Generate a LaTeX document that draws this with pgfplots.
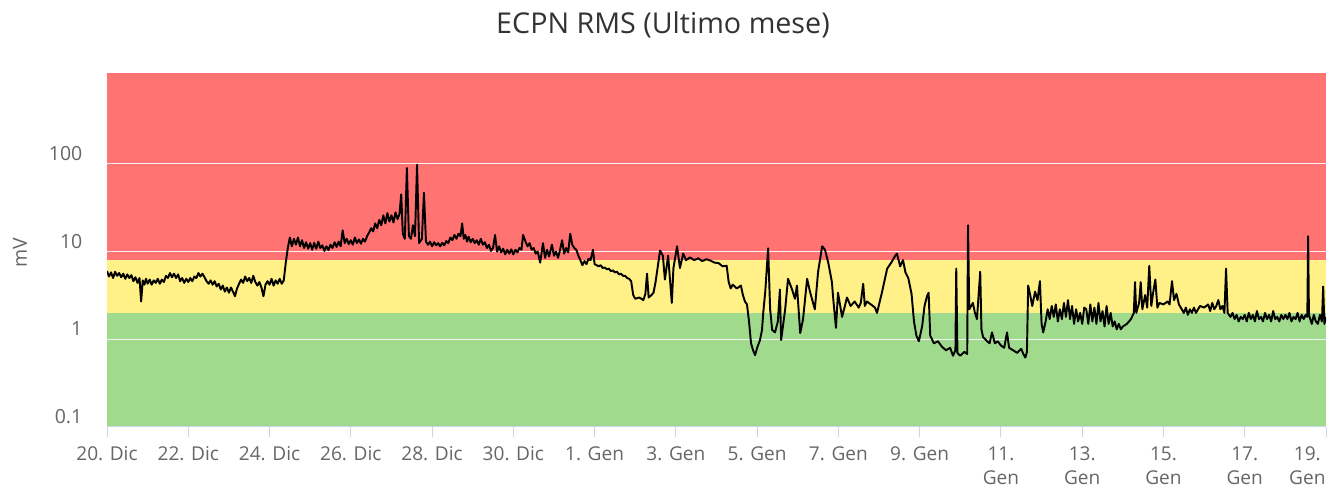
\documentclass[border=0pt]{standalone}
\usepackage{fontspec}
\setmainfont{Open Sans}
\usepackage{pgfplots}
\pgfplotsset{compat=1.18}

\definecolor{bandred}{HTML}{FF7373}
\definecolor{bandyellow}{HTML}{FFF087}
\definecolor{bandgreen}{HTML}{A0DA8C}
\definecolor{txtgray}{HTML}{666666}
\definecolor{titlegray}{HTML}{333333}
\definecolor{axisblue}{HTML}{CCD6EB}

\begin{document}
\begin{tikzpicture}
\begin{axis}[
    set layers,
    scale only axis,
    width=914.25pt, height=265.5pt,
    ymode=log,
    xmin=0, xmax=30, ymin=0.1, ymax=1090,
    axis x line*=bottom, axis y line*=left,
    x axis line style={draw=axisblue, line width=0.75pt, -},
    y axis line style={draw=none},
    tick align=outside,
    major tick length=7.5pt,
    xtick={0,2,...,28},
    xticklabels={20. Dic,22. Dic,24. Dic,26. Dic,28. Dic,30. Dic,1. Gen,3. Gen,5. Gen,7. Gen,9. Gen,{11.\\Gen},{13.\\Gen},{15.\\Gen},{17.\\Gen}},
    extra x ticks={30},
    extra x tick labels={{19.\\Gen}},
    extra x tick style={xticklabel style={xshift=-14pt}},
    xtick style={draw=axisblue, line width=0.75pt},
    xticklabel style={align=center, anchor=north, yshift=-3.75pt, text=txtgray, font=\fontsize{14.3}{18}\selectfont},
    ytick={0.1,1,10,100},
    yticklabels={0.1,1,10,100},
    ytick style={draw=none},
    yticklabel style={anchor=east, xshift=-7.5pt, yshift=7.9pt, text=txtgray, font=\fontsize{14.6}{17}\selectfont},
    minor tick num=0,
    ymajorgrids,
    major grid style={draw=white!90!gray, line width=0.75pt},
    ylabel={mV},
    ylabel style={at={(axis description cs:-0.0714,0.4915)}, anchor=center, text=txtgray, font=\fontsize{14.6}{17}\selectfont},
    every axis title shift=0pt,
    title={ECPN RMS (Ultimo mese)},
    title style={at={(axis description cs:0.4561,1.1356)}, anchor=center, text=titlegray, font=\fontsize{21.5}{25}\selectfont},
    clip=true,
]
\begin{pgfonlayer}{axis background}
\fill[bandgreen] (axis cs:0,0.1) rectangle (axis cs:30,2);
\fill[bandyellow] (axis cs:0,2) rectangle (axis cs:30,8);
\fill[bandred] (axis cs:0,8) rectangle (axis cs:30,1090);
\end{pgfonlayer}
\addplot[black, line width=1.45pt, line join=round, no markers] coordinates {
(0.00,6.0) (0.05,5.2) (0.10,5.8) (0.15,5.0) (0.20,5.9) (0.25,5.3) (0.30,5.7) (0.35,5.1) (0.40,5.6) (0.45,4.9)
(0.50,5.5) (0.55,5.0) (0.60,5.4) (0.65,4.6) (0.70,5.1) (0.75,4.4) (0.80,5.0) (0.84,2.7) (0.88,4.7) (0.92,4.2)
(0.96,4.9) (1.00,4.3) (1.05,4.8) (1.10,4.2) (1.15,4.7) (1.20,4.4) (1.25,4.9) (1.30,4.3) (1.35,4.8) (1.40,4.5)
(1.45,5.3) (1.50,5.0) (1.55,5.7) (1.60,5.1) (1.65,5.6) (1.70,5.0) (1.75,5.5) (1.80,4.6) (1.85,5.0) (1.90,4.4)
(1.95,4.9) (2.00,4.5) (2.05,5.0) (2.10,4.6) (2.15,5.2) (2.20,5.0) (2.25,5.7) (2.30,5.2) (2.35,5.6) (2.40,5.1)
(2.45,4.6) (2.50,4.3) (2.55,4.7) (2.60,4.2) (2.65,4.6) (2.70,4.0) (2.75,4.3) (2.80,3.7) (2.85,4.1) (2.90,3.5)
(2.95,3.9) (3.00,3.4) (3.05,3.9) (3.10,3.5) (3.15,3.1) (3.20,3.8) (3.25,4.3) (3.30,4.8) (3.35,4.4) (3.40,5.2)
(3.45,4.6) (3.50,5.0) (3.55,4.4) (3.60,5.3) (3.65,4.5) (3.70,4.1) (3.75,4.5) (3.80,3.9) (3.85,3.1) (3.90,4.2)
(3.95,4.6) (4.00,4.2) (4.05,4.9) (4.10,4.1) (4.15,4.7) (4.20,4.3) (4.25,4.9) (4.30,4.3) (4.35,4.7)
(4.40,7.5) (4.45,11.0) (4.50,14.5) (4.55,11.5) (4.60,14.0) (4.65,12.0) (4.70,14.5) (4.75,11.5) (4.80,13.5) (4.85,11.0)
(4.90,12.8) (4.95,10.8) (5.00,12.5) (5.05,10.5) (5.10,12.6) (5.15,10.8) (5.20,13.0) (5.25,11.0) (5.30,11.8) (5.35,10.2)
(5.40,11.5) (5.45,10.4) (5.50,12.0) (5.55,11.0) (5.60,12.8) (5.65,11.3) (5.70,13.0) (5.75,11.5) (5.80,17.5) (5.85,12.5)
(5.90,14.0) (5.95,12.2) (6.00,13.5) (6.05,12.0) (6.10,14.5) (6.15,12.5) (6.20,13.8) (6.25,12.3) (6.30,14.0) (6.35,13.0)
(6.40,15.0) (6.45,16.5) (6.50,18.5) (6.55,17.0) (6.60,21.0) (6.65,18.5) (6.70,23.0) (6.75,20.0) (6.80,26.0) (6.85,21.0)
(6.90,27.5) (6.95,22.0) (7.00,26.0) (7.05,21.5) (7.10,28.0) (7.15,23.5) (7.20,27.0) (7.24,45) (7.28,16) (7.33,14)
(7.38,90) (7.43,15) (7.48,14) (7.53,20) (7.58,15) (7.63,98) (7.68,12.5) (7.75,14) (7.80,47) (7.85,13)
(7.90,12.0) (7.95,13.0) (8.00,11.5) (8.05,12.8) (8.10,11.8) (8.15,12.5) (8.20,11.5) (8.25,12.6) (8.30,11.8) (8.35,13.2)
(8.40,12.5) (8.45,14.5) (8.50,13.5) (8.55,15.5) (8.60,14.0) (8.65,16.0) (8.70,15.0) (8.74,21) (8.78,14.0) (8.82,15.5)
(8.86,13.0) (8.90,14.8) (8.95,12.8) (9.00,14.0) (9.05,12.5) (9.10,13.5) (9.15,12.0) (9.20,14.0) (9.25,12.0) (9.30,12.8)
(9.35,11.0) (9.40,12.0) (9.45,10.2) (9.50,11.0) (9.55,15.5) (9.60,10.0) (9.65,11.5) (9.70,9.8) (9.75,10.8) (9.80,9.3)
(9.85,10.5) (9.90,9.5) (9.95,10.6) (10.00,9.3) (10.05,10.5) (10.10,9.8) (10.15,11.0) (10.20,10.5) (10.24,15.5) (10.30,13.0)
(10.35,11.5) (10.40,12.5) (10.45,10.5) (10.50,11.0) (10.55,9.5) (10.60,10.0) (10.66,7.5) (10.73,12.5) (10.78,8.5) (10.83,10.5)
(10.88,8.8) (10.95,12.0) (11.00,9.0) (11.05,10.0) (11.10,8.5) (11.15,10.5) (11.20,13.5) (11.25,9.5) (11.30,11.0) (11.35,9.8)
(11.40,16.0) (11.45,12.0) (11.50,11.0) (11.55,10.5) (11.60,9.0) (11.65,8.0) (11.70,7.0) (11.75,7.8) (11.80,7.2) (11.85,8.3)
(11.90,8.0) (11.96,10.5) (12.00,7.2) (12.05,7.0) (12.10,6.8) (12.15,7.0) (12.20,6.5) (12.25,6.6) (12.30,6.3) (12.35,6.4)
(12.40,6.0) (12.45,6.1) (12.50,5.8) (12.55,5.9) (12.60,5.5) (12.65,5.6) (12.70,5.3) (12.75,5.3) (12.80,5.0) (12.85,4.9)
(12.90,4.6) (12.95,3.2) (13.00,2.9) (13.10,3.0) (13.20,2.8) (13.25,3.3) (13.29,5.6) (13.33,3.0) (13.40,3.2) (13.45,3.4)
(13.50,4.5) (13.55,6.5) (13.61,10.3) (13.68,9.0) (13.73,4.8) (13.81,9.0) (13.86,4.5) (13.90,2.6) (13.94,6.5) (14.03,11.5)
(14.10,6.5) (14.18,9.5) (14.25,8.0) (14.35,8.6) (14.45,8.0) (14.55,8.4) (14.65,7.8) (14.75,8.2) (14.85,7.9) (14.95,7.5)
(15.05,7.4) (15.15,6.8) (15.25,6.9) (15.30,4.5) (15.35,3.8) (15.40,4.2) (15.50,3.8) (15.60,4.1) (15.65,3.2) (15.70,2.7)
(15.75,2.5) (15.80,1.6) (15.85,0.9) (15.90,0.75) (15.95,0.66) (16.00,0.8) (16.07,0.98) (16.12,1.28) (16.15,2.0) (16.20,3.5)
(16.27,10.9) (16.32,2.2) (16.37,1.28) (16.44,1.2) (16.51,1.6) (16.56,3.7) (16.59,0.98) (16.69,2.2) (16.76,4.9) (16.86,3.7)
(16.93,2.9) (16.98,4.1) (17.06,1.18) (17.13,1.7) (17.23,4.9) (17.30,3.5) (17.42,2.2) (17.50,5.9) (17.60,11.5) (17.67,10.5)
(17.75,7.5) (17.84,4.5) (17.87,3.0) (17.94,1.35) (17.99,3.4) (18.09,1.8) (18.15,2.3) (18.21,3.0) (18.30,2.4) (18.40,2.7)
(18.50,2.3) (18.55,2.6) (18.61,4.3) (18.65,2.4) (18.70,2.7) (18.80,2.5) (18.90,2.3) (18.95,2.0) (19.07,3.4) (19.20,6.4)
(19.30,7.5) (19.40,9.0) (19.44,9.5) (19.52,6.8) (19.59,8.0) (19.65,5.8) (19.72,5.0) (19.80,3.3) (19.86,1.6) (19.92,1.1)
(19.98,0.95) (20.06,1.4) (20.12,2.4) (20.18,3.1) (20.22,3.4) (20.26,1.1) (20.35,0.9) (20.45,0.95) (20.55,0.82) (20.65,0.75)
(20.75,0.8) (20.82,0.65) (20.88,0.75) (20.90,6.4) (20.93,0.7) (21.00,0.65) (21.10,0.72) (21.17,0.68) (21.19,20) (21.22,2.2)
(21.31,2.6) (21.36,2.0) (21.41,1.7) (21.49,5.9) (21.52,1.3) (21.56,1.06) (21.66,0.95) (21.72,0.9) (21.78,1.2) (21.85,0.9)
(21.92,0.95) (22.00,0.85) (22.08,0.8) (22.15,1.2) (22.20,0.8) (22.30,0.75) (22.40,0.7) (22.50,0.78) (22.55,0.68) (22.60,0.62)
(22.64,0.72) (22.67,4.1) (22.72,3.2) (22.77,2.4) (22.84,3.5) (22.90,2.8) (22.96,4.6) (23.00,1.5) (23.04,1.2) (23.10,1.6)
(23.15,2.2) (23.20,1.7) (23.25,2.4) (23.30,1.8) (23.35,2.5) (23.40,1.6) (23.45,2.2) (23.50,1.7) (23.55,2.6) (23.60,1.8)
(23.65,2.8) (23.70,1.7) (23.75,2.4) (23.80,1.5) (23.85,2.2) (23.90,1.6) (23.95,2.0) (24.00,1.5) (24.05,2.3) (24.10,2.2)
(24.15,1.5) (24.20,2.5) (24.25,1.6) (24.30,2.3) (24.35,1.5) (24.40,2.6) (24.45,1.6) (24.50,2.1) (24.55,1.4) (24.60,2.4)
(24.65,1.5) (24.70,2.0) (24.75,1.4) (24.80,1.6) (24.85,1.3) (24.90,1.5) (24.95,1.3) (25.00,1.4) (25.10,1.5) (25.20,1.7)
(25.27,2.0) (25.30,4.5) (25.33,2.0) (25.40,2.6) (25.44,4.5) (25.48,2.2) (25.55,3.2) (25.60,2.3) (25.65,6.9) (25.70,2.4)
(25.75,3.5) (25.80,4.8) (25.85,2.3) (25.90,2.6) (26.00,2.5) (26.10,2.7) (26.15,2.5) (26.21,4.6) (26.26,2.8) (26.32,3.3)
(26.38,2.5) (26.45,2.2) (26.50,2.0) (26.55,2.3) (26.60,1.9) (26.65,2.2) (26.70,2.0) (26.75,2.3) (26.80,2.0) (26.85,2.2)
(26.90,2.4) (27.00,2.3) (27.10,2.5) (27.15,2.1) (27.20,2.6) (27.25,2.2) (27.30,2.4) (27.35,2.8) (27.40,2.2) (27.45,2.4)
(27.50,2.0) (27.54,6.4) (27.58,2.0) (27.65,1.8) (27.70,2.0) (27.75,1.7) (27.80,1.9) (27.85,1.6) (27.90,1.8) (27.95,1.7)
(28.00,1.9) (28.05,1.6) (28.10,2.0) (28.15,1.7) (28.20,1.9) (28.25,1.6) (28.30,2.1) (28.35,1.7) (28.40,1.8) (28.45,1.6)
(28.50,2.0) (28.55,1.7) (28.60,1.9) (28.65,1.6) (28.70,2.1) (28.75,1.7) (28.80,1.8) (28.85,1.6) (28.90,1.9) (28.95,1.7)
(29.00,1.9) (29.05,1.7) (29.10,2.0) (29.15,1.6) (29.20,1.8) (29.25,1.7) (29.30,2.0) (29.35,1.6) (29.40,1.9) (29.45,1.7)
(29.50,1.9) (29.54,1.8) (29.56,15) (29.58,1.9) (29.65,1.5) (29.70,1.9) (29.75,1.6) (29.80,1.5) (29.85,1.9) (29.90,1.6)
(29.93,4.0) (29.96,1.5) (30.00,1.8)
};
\end{axis}
\pgfresetboundingbox
\path[use as bounding box] (current axis.south west) ++(-80.25pt,-45.75pt) rectangle ++(997.5pt,366pt);
\end{tikzpicture}
\end{document}
